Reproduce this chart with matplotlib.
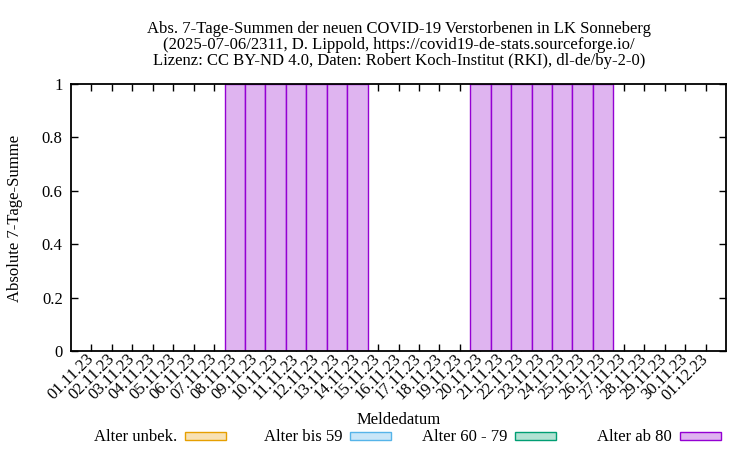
import matplotlib
matplotlib.use("Agg")
import matplotlib.pyplot as plt
from matplotlib.patches import Rectangle
from matplotlib.ticker import FuncFormatter
import matplotlib.transforms as mtransforms
import numpy as np

plt.rcParams['font.family'] = ['Liberation Serif', 'DejaVu Serif']

dates = ["01.11.23", "02.11.23", "03.11.23", "04.11.23", "05.11.23", "06.11.23",
         "07.11.23", "08.11.23", "09.11.23", "10.11.23", "11.11.23", "12.11.23",
         "13.11.23", "14.11.23", "15.11.23", "16.11.23", "17.11.23", "18.11.23",
         "19.11.23", "20.11.23", "21.11.23", "22.11.23", "23.11.23", "24.11.23",
         "25.11.23", "26.11.23", "27.11.23", "28.11.23", "29.11.23", "30.11.23",
         "01.12.23"]

alter_unbek = [0, 0, 0, 0, 0, 0, 0, 0, 0, 0, 0, 0, 0, 0, 0, 0, 0, 0, 0, 0, 0, 0, 0, 0, 0, 0, 0, 0, 0, 0, 0]
alter_bis_59 = [0, 0, 0, 0, 0, 0, 0, 0, 0, 0, 0, 0, 0, 0, 0, 0, 0, 0, 0, 0, 0, 0, 0, 0, 0, 0, 0, 0, 0, 0, 0]
alter_60_79 = [0, 0, 0, 0, 0, 0, 0, 0, 0, 0, 0, 0, 0, 0, 0, 0, 0, 0, 0, 0, 0, 0, 0, 0, 0, 0, 0, 0, 0, 0, 0]
alter_ab_80 = [0, 0, 0, 0, 0, 0, 0, 1, 1, 1, 1, 1, 1, 1, 0, 0, 0, 0, 0, 1, 1, 1, 1, 1, 1, 1, 0, 0, 0, 0, 0]

series_labels = ["Alter unbek.", "Alter bis 59", "Alter 60 - 79", "Alter ab 80"]
series_values = [alter_unbek, alter_bis_59, alter_60_79, alter_ab_80]
fill_colors = ["#f8e1b3", "#c9e6f8", "#b2e2d3", "#dfb4f0"]
edge_colors = ["#e69f00", "#56b4e9", "#009e73", "#9400d3"]

yticks = [0, 0.2, 0.4, 0.6, 0.8, 1]

title_lines = ["Abs. 7-Tage-Summen der neuen COVID-19 Verstorbenen in LK Sonneberg",
               "(2025-07-06/2311, D. Lippold, https://covid19-de-stats.sourceforge.io/",
               "Lizenz: CC BY-ND 4.0, Daten: Robert Koch-Institut (RKI), dl-de/by-2-0)"]

FS = 12
W, H = 750, 450
fig = plt.figure(figsize=(7.5, 4.5), dpi=100)
ax = fig.add_axes([71 / W, 1 - 351 / H, (726 - 71) / W, (351 - 84) / H])

x = np.arange(len(dates))
bottom = np.zeros(len(dates))
for vals, fc, ec in zip(series_values, fill_colors, edge_colors):
    v = np.array(vals, dtype=float)
    m = v > 0
    if m.any():
        ax.bar(x[m], v[m], width=1.0, bottom=bottom[m], color=fc, edgecolor=ec,
               linewidth=1.0, zorder=2)
    bottom += v

ax.set_xlim(-1, len(dates))
ax.set_ylim(0, 1)
ax.set_yticks(yticks)
ax.yaxis.set_major_formatter(FuncFormatter(lambda v, p: "%g" % v))
ax.set_xticks(x)
labels = ax.set_xticklabels(dates, rotation=45, ha='right', va='center',
                            rotation_mode='anchor', fontsize=FS)
offset = mtransforms.ScaledTranslation(4 / 100, -7 / 100, fig.dpi_scale_trans)
for lab in labels:
    lab.set_transform(lab.get_transform() + offset)

ax.tick_params(axis='both', direction='in', top=True, right=True, length=5,
               width=1.0, labelsize=FS, color='black')
ax.tick_params(axis='x', pad=4)
ax.tick_params(axis='y', pad=6)
for s in ax.spines.values():
    s.set_linewidth(1.3)
    s.set_zorder(3)

for i, t in enumerate(title_lines):
    fig.text(399 / W, 1 - (29 + 16 * i) / H, t, ha='center', va='center', fontsize=FS)

fig.text(15 / W, 1 - 218 / H, "Absolute 7-Tage-Summe", rotation=90,
         ha='center', va='center', fontsize=FS)
fig.text(399 / W, 1 - 420 / H, "Meldedatum", ha='center', va='center', fontsize=FS)

for k, (lab, fc, ec) in enumerate(zip(series_labels, fill_colors, edge_colors)):
    bx = 185 + 165 * k
    fig.text((bx - 8) / W, 1 - 437 / H, lab, ha='right', va='center', fontsize=FS)
    fig.patches.append(Rectangle((bx / W, 1 - 440 / H), 41 / W, 8 / H,
                                 transform=fig.transFigure, facecolor=fc,
                                 edgecolor=ec, linewidth=1.0))

fig.savefig("out.png", dpi=100)
